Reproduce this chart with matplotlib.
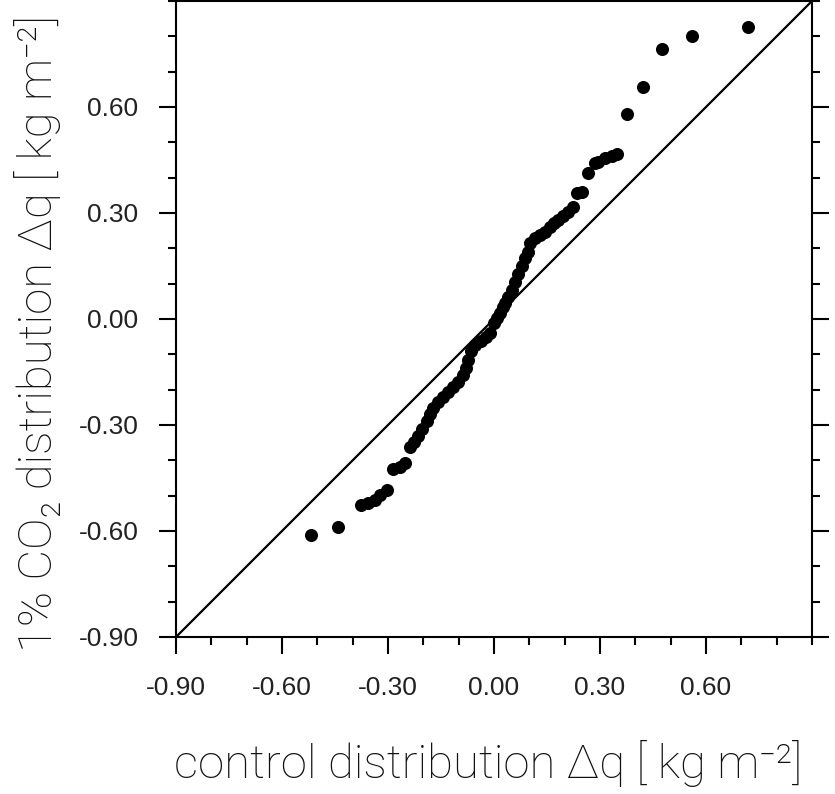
import matplotlib
matplotlib.use("Agg")
import matplotlib.pyplot as plt
from matplotlib.ticker import MultipleLocator, FixedLocator
import numpy as np

# Quantile pairs (control, 1% CO2)
control_q = [-0.518, -0.442, -0.376, -0.357, -0.337, -0.323, -0.303, -0.286, -0.266, -0.252,
             -0.238, -0.226, -0.215, -0.204, -0.190, -0.181, -0.173, -0.159, -0.144, -0.130,
             -0.116, -0.102, -0.088, -0.079, -0.074, -0.065, -0.054, -0.037, -0.023, -0.011,
             0.000, 0.008, 0.017, 0.025, 0.031, 0.040, 0.051, 0.059, 0.068, 0.079,
             0.088, 0.096, 0.102, 0.116, 0.130, 0.144, 0.159, 0.170, 0.181, 0.195,
             0.209, 0.224, 0.235, 0.249, 0.266, 0.285, 0.294, 0.314, 0.334, 0.348,
             0.376, 0.422, 0.476, 0.560, 0.719]
co2_q = [-0.611, -0.589, -0.526, -0.521, -0.512, -0.498, -0.484, -0.425, -0.419, -0.408,
         -0.362, -0.348, -0.331, -0.311, -0.289, -0.269, -0.252, -0.235, -0.221, -0.207,
         -0.193, -0.178, -0.159, -0.139, -0.116, -0.091, -0.074, -0.062, -0.051, -0.040,
         -0.011, 0.003, 0.017, 0.034, 0.045, 0.062, 0.082, 0.105, 0.127, 0.150,
         0.173, 0.190, 0.215, 0.229, 0.238, 0.246, 0.260, 0.272, 0.280, 0.292,
         0.303, 0.317, 0.357, 0.359, 0.413, 0.441, 0.444, 0.456, 0.461, 0.467,
         0.580, 0.657, 0.764, 0.801, 0.826]

axis_min, axis_max = -0.90, 0.90
major_ticks = [-0.90, -0.60, -0.30, 0.00, 0.30, 0.60]
tick_labels = ["-0.90", "-0.60", "-0.30", "0.00", "0.30", "0.60"]

xlabel = "control distribution \u0394q [ kg m\u207b\u00b2]"
ylabel = "1% CO\u2082 distribution \u0394q [ kg m\u207b\u00b2]"

W, H = 835, 794
fig = plt.figure(figsize=(W / 100, H / 100), dpi=100)
ax = fig.add_axes([176 / W, 1 - 637 / H, 636 / W, 636 / H])

ax.plot([axis_min, axis_max], [axis_min, axis_max], color="black", lw=1.6, zorder=2)
ax.plot(control_q, co2_q, "o", color="black", ms=9.4, mew=0, zorder=3, clip_on=False)

ax.set_xlim(axis_min, axis_max)
ax.set_ylim(axis_min, axis_max)
for a in (ax.xaxis, ax.yaxis):
    a.set_major_locator(FixedLocator(major_ticks))
    a.set_minor_locator(MultipleLocator(0.1))
ax.set_xticklabels(tick_labels)
ax.set_yticklabels(tick_labels)

for s in ax.spines.values():
    s.set_linewidth(1.5)

ax.tick_params(which="both", direction="out", top=True, right=True, width=1.5,
               labeltop=False, labelright=False, color="black")
ax.tick_params(which="major", length=12.5)
ax.tick_params(which="minor", length=6)
ax.tick_params(axis="x", which="major", pad=15.5)
ax.tick_params(axis="y", which="major", pad=14.5)
for lab in ax.get_xticklabels() + ax.get_yticklabels():
    lab.set_fontfamily(["Liberation Sans", "DejaVu Sans"])
    lab.set_fontsize(19)
    lab.set_color("#222222")

label_font = dict(family=["Roboto", "DejaVu Sans"], weight="light", size=34, color="#111111")
fig.text(488 / W, 1 - 778 / H, xlabel, ha="center", va="baseline", **label_font)
fig.text(14 / W, 1 - 334 / H, ylabel, ha="left", va="center", rotation=90, **label_font)

fig.savefig("out.png", dpi=100)
